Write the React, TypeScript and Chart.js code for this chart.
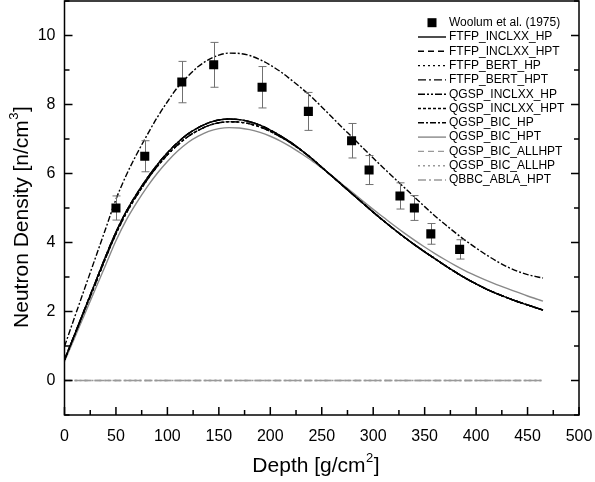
import React, { useEffect, useRef } from 'react';
import { Chart, registerables } from 'chart.js';

Chart.register(...registerables);

// ---------- data ----------
const DEPTH = [0, 10, 20, 30, 40, 50, 60, 70, 80, 90, 100, 110, 120, 130, 140, 150, 160, 170, 180, 190, 200, 210, 220, 230, 240, 250, 260, 270, 280, 290, 300, 310, 320, 330, 340, 350, 360, 370, 380, 390, 400, 410, 420, 430, 440, 450, 460, 465];

const UPPER_CURVE = [0.99, 1.85, 2.7, 3.55, 4.4, 5.25, 5.95, 6.55, 7.1, 7.62, 8.08, 8.5, 8.82, 9.1, 9.3, 9.43, 9.49, 9.48, 9.42, 9.3, 9.14, 8.95, 8.72, 8.48, 8.22, 7.93, 7.63, 7.33, 7.04, 6.74, 6.45, 6.16, 5.88, 5.6, 5.32, 5.04, 4.77, 4.52, 4.28, 4.05, 3.84, 3.64, 3.46, 3.3, 3.17, 3.07, 3.0, 2.97];

const BLACK_A = [0.6, 1.35, 2.1, 2.85, 3.6, 4.3, 4.9, 5.4, 5.85, 6.25, 6.6, 6.9, 7.15, 7.33, 7.47, 7.55, 7.58, 7.56, 7.5, 7.4, 7.26, 7.09, 6.9, 6.68, 6.44, 6.18, 5.92, 5.66, 5.4, 5.14, 4.88, 4.63, 4.39, 4.16, 3.94, 3.73, 3.53, 3.33, 3.14, 2.96, 2.8, 2.65, 2.52, 2.4, 2.29, 2.19, 2.09, 2.04];

const BLACK_B = [0.6, 1.33, 2.07, 2.8, 3.55, 4.25, 4.85, 5.35, 5.8, 6.2, 6.54, 6.83, 7.07, 7.25, 7.39, 7.47, 7.5, 7.49, 7.44, 7.35, 7.22, 7.06, 6.88, 6.67, 6.44, 6.18, 5.92, 5.66, 5.4, 5.14, 4.88, 4.63, 4.39, 4.16, 3.94, 3.73, 3.53, 3.33, 3.14, 2.96, 2.8, 2.65, 2.52, 2.4, 2.29, 2.19, 2.09, 2.04];

const GRAY_CURVE = [0.55, 1.25, 1.95, 2.65, 3.35, 4.05, 4.65, 5.15, 5.6, 6.0, 6.35, 6.65, 6.9, 7.08, 7.22, 7.3, 7.33, 7.32, 7.27, 7.19, 7.08, 6.94, 6.77, 6.58, 6.38, 6.16, 5.93, 5.69, 5.45, 5.2, 4.96, 4.73, 4.5, 4.28, 4.07, 3.87, 3.68, 3.5, 3.33, 3.17, 3.03, 2.9, 2.78, 2.67, 2.56, 2.45, 2.35, 2.3];

const ZERO_DEPTH = [0, 465];
const ZERO_DENSITY = [0, 0];

const WOOLUM_DEPTH = [50, 78, 114, 145, 192, 237, 279, 296, 326, 340, 356, 384];
const WOOLUM_DENSITY = [5.0, 6.5, 8.65, 9.15, 8.5, 7.8, 6.95, 6.1, 5.35, 5.0, 4.25, 3.8];
const WOOLUM_ERROR = [0.35, 0.45, 0.6, 0.65, 0.6, 0.55, 0.5, 0.42, 0.38, 0.36, 0.3, 0.28];

const X_TICKS = [0, 50, 100, 150, 200, 250, 300, 350, 400, 450, 500];
const X_MINOR = [25, 75, 125, 175, 225, 275, 325, 375, 425, 475];
const Y_TICKS = [0, 2, 4, 6, 8, 10];
const Y_MINOR = [-1, 1, 3, 5, 7, 9, 11];

const X_TITLE = ['Depth [g/cm', '2', ']'];
const Y_TITLE = ['Neutron Density [n/cm', '3', ']'];

const FONT = "'Liberation Sans', Arial, sans-serif";

const pts = (xs: number[], ys: number[]) => xs.map((x, i) => ({ x, y: ys[i] }));

const lineDs = (label: string, ys: number[], color: string, dash: number[], xs: number[] = DEPTH) => ({
  label,
  data: pts(xs, ys),
  borderColor: color,
  backgroundColor: color,
  borderWidth: 1.4,
  borderDash: dash,
  pointRadius: 0,
  fill: false,
  cubicInterpolationMode: 'monotone' as const,
  showLine: true,
});

const zeroPadding = (s: any) => {
  s.paddingLeft = 0;
  s.paddingRight = 0;
  s.paddingTop = 0;
  s.paddingBottom = 0;
};

// draws "base" + superscript + "tail", centred on (cx, cy), optionally rotated
const drawSupTitle = (ctx: CanvasRenderingContext2D, parts: string[], cx: number, cy: number, rot: number, size: number) => {
  const big = `${size}px ${FONT}`;
  const small = `${Math.round(size * 0.62)}px ${FONT}`;
  ctx.save();
  ctx.translate(cx, cy);
  ctx.rotate(rot);
  ctx.fillStyle = '#000';
  ctx.textBaseline = 'middle';
  ctx.textAlign = 'left';
  ctx.font = big;
  const w0 = ctx.measureText(parts[0]).width;
  const w2 = ctx.measureText(parts[2]).width;
  ctx.font = small;
  const w1 = ctx.measureText(parts[1]).width;
  let xx = -(w0 + w1 + w2 + 1) / 2;
  ctx.font = big;
  ctx.fillText(parts[0], xx, 0);
  xx += w0;
  ctx.font = small;
  ctx.fillText(parts[1], xx + 0.5, -size * 0.38);
  xx += w1 + 1;
  ctx.font = big;
  ctx.fillText(parts[2], xx, 0);
  ctx.restore();
};

// ---------- plugins ----------
const errorBarPlugin = {
  id: 'errorBars',
  beforeDatasetDraw(chart: any, args: any) {
    if (args.index !== 0) return;
    const { ctx, scales } = chart;
    const x = scales.x, y = scales.y;
    ctx.save();
    ctx.strokeStyle = '#707070';
    ctx.lineWidth = 1;
    WOOLUM_DEPTH.forEach((d, i) => {
      const px = Math.round(x.getPixelForValue(d)) + 0.5;
      const top = y.getPixelForValue(WOOLUM_DENSITY[i] + WOOLUM_ERROR[i]);
      const bot = y.getPixelForValue(WOOLUM_DENSITY[i] - WOOLUM_ERROR[i]);
      ctx.beginPath();
      ctx.moveTo(px, top); ctx.lineTo(px, bot);
      ctx.moveTo(px - 4, top); ctx.lineTo(px + 4, top);
      ctx.moveTo(px - 4, bot); ctx.lineTo(px + 4, bot);
      ctx.stroke();
    });
    ctx.restore();
  },
};

const frameTicksPlugin = {
  id: 'frameTicks',
  afterDraw(chart: any) {
    const { ctx, chartArea: a, scales } = chart;
    const x = scales.x, y = scales.y;
    ctx.save();
    ctx.strokeStyle = '#000';
    ctx.lineWidth = 1.5;
    ctx.setLineDash([]);
    ctx.strokeRect(a.left, a.top, a.right - a.left, a.bottom - a.top);
    ctx.beginPath();
    const xt = (v: number, len: number) => {
      const px = x.getPixelForValue(v);
      ctx.moveTo(px, a.bottom); ctx.lineTo(px, a.bottom - len);
    };
    const yt = (v: number, len: number) => {
      const py = y.getPixelForValue(v);
      ctx.moveTo(a.left, py); ctx.lineTo(a.left + len, py);
      ctx.moveTo(a.right, py); ctx.lineTo(a.right - len, py);
    };
    X_TICKS.forEach(v => xt(v, 8));
    X_MINOR.forEach(v => xt(v, 5));
    Y_TICKS.forEach(v => yt(v, 8));
    Y_MINOR.forEach(v => yt(v, 5));
    ctx.stroke();
    ctx.restore();
    // axis titles with real superscripts
    drawSupTitle(ctx, X_TITLE, 316, 466, 0, 21);
    drawSupTitle(ctx, Y_TITLE, 22, 217, -Math.PI / 2, 21);
  },
};

const legendPlugin = {
  id: 'customLegend',
  afterDraw(chart: any) {
    const { ctx } = chart;
    const x0 = 418, x1 = 446, tx = 449, row0 = 22.7, step = 14.3;
    ctx.save();
    ctx.textBaseline = 'middle';
    ctx.textAlign = 'left';
    chart.data.datasets.forEach((ds: any, i: number) => {
      const yy = row0 + i * step;
      if (i === 0) {
        ctx.fillStyle = '#000';
        ctx.fillRect((x0 + x1) / 2 - 4.5, yy - 4.5, 9, 9);
      } else {
        ctx.strokeStyle = ds.borderColor;
        ctx.lineWidth = ds.borderWidth;
        ctx.setLineDash(ds.borderDash || []);
        ctx.beginPath();
        ctx.moveTo(x0, yy); ctx.lineTo(x1, yy);
        ctx.stroke();
      }
      ctx.setLineDash([]);
      ctx.fillStyle = '#000';
      ctx.font = `12px ${FONT}`;
      ctx.fillText(ds.label, tx, yy);
    });
    ctx.restore();
  },
};

export default function App() {
  const ref = useRef<HTMLCanvasElement>(null);
  useEffect(() => {
    document.body.style.margin = '0';
    const datasets: any[] = [
      {
        label: 'Woolum et al. (1975)',
        data: pts(WOOLUM_DEPTH, WOOLUM_DENSITY),
        showLine: false,
        pointStyle: 'rect',
        pointRadius: 6.4,
        pointHoverRadius: 6.4,
        backgroundColor: '#000',
        borderColor: '#000',
        borderWidth: 0,
      },
      lineDs('FTFP_INCLXX_HP', BLACK_A, '#000', []),
      lineDs('FTFP_INCLXX_HPT', BLACK_A, '#000', [6, 4]),
      lineDs('FTFP_BERT_HP', BLACK_B, '#000', [2, 3]),
      lineDs('FTFP_BERT_HPT', BLACK_B, '#000', [8, 3, 2, 3]),
      lineDs('QGSP_INCLXX_HP', BLACK_A, '#000', [7, 2, 2, 2, 2, 2]),
      lineDs('QGSP_INCLXX_HPT', BLACK_B, '#000', [3, 2]),
      lineDs('QGSP_BIC_HP', UPPER_CURVE, '#000', [6, 2, 2, 2]),
      lineDs('QGSP_BIC_HPT', GRAY_CURVE, '#888', []),
      lineDs('QGSP_BIC_ALLHPT', ZERO_DENSITY, '#999', [6, 4], ZERO_DEPTH),
      lineDs('QGSP_BIC_ALLHP', ZERO_DENSITY, '#999', [2, 3], ZERO_DEPTH),
      lineDs('QBBC_ABLA_HPT', ZERO_DENSITY, '#999', [8, 3, 2, 3], ZERO_DEPTH),
    ];
    const chart = new Chart(ref.current as HTMLCanvasElement, {
      type: 'scatter',
      data: { datasets },
      options: {
        responsive: false,
        animation: false,
        devicePixelRatio: 1,
        layout: { autoPadding: false, padding: { top: 1, right: 16, left: 0, bottom: 0 } },
        plugins: { legend: { display: false }, tooltip: { enabled: false } },
        scales: {
          x: {
            type: 'linear',
            min: 0,
            max: 500,
            afterBuildTicks: (s: any) => { s.ticks = X_TICKS.map(v => ({ value: v })); },
            afterFit: (s: any) => { s.height = 67; zeroPadding(s); },
            grid: { display: false, drawTicks: false },
            border: { display: false },
            ticks: { color: '#000', font: { family: FONT, size: 16 }, padding: 12, maxRotation: 0, autoSkip: false },
            title: { display: false },
          },
          y: {
            type: 'linear',
            min: -1,
            max: 11,
            afterBuildTicks: (s: any) => { s.ticks = Y_TICKS.map(v => ({ value: v })); },
            afterFit: (s: any) => { s.width = 64.5; zeroPadding(s); },
            grid: { display: false, drawTicks: false },
            border: { display: false },
            ticks: { color: '#000', font: { family: FONT, size: 16 }, padding: 9 },
            title: { display: false },
          },
        },
      },
      plugins: [errorBarPlugin, frameTicksPlugin, legendPlugin],
    });
    return () => chart.destroy();
  }, []);
  return (
    <div style={{ width: 595, height: 482 }}>
      <canvas ref={ref} width={595} height={482} style={{ display: 'block' }} />
    </div>
  );
}
